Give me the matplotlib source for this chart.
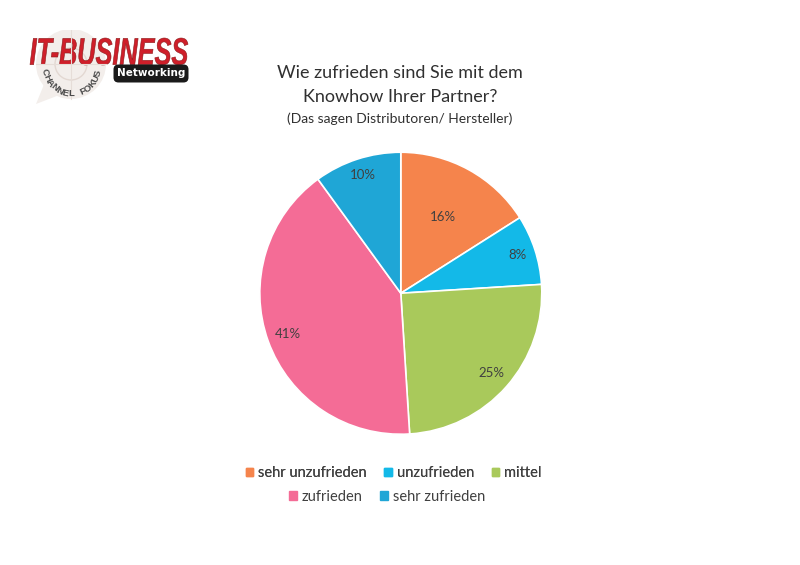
import numpy as np
import matplotlib.pyplot as plt
from matplotlib.patches import FancyBboxPatch, Circle, Polygon, PathPatch
from matplotlib.textpath import TextPath
from matplotlib.font_manager import FontProperties
from matplotlib.transforms import Affine2D

labels = ['sehr unzufrieden', 'unzufrieden', 'mittel', 'zufrieden', 'sehr zufrieden']
werte = [16, 8, 25, 41, 10]
farben = ['#F5844C', '#13B9E8', '#A9C95B', '#F46C96', '#1FA6D6']
label_abstand = [0.62, 0.87, 0.86, 0.85, 0.88]

plt.rcParams['font.family'] = ['Lato', 'DejaVu Sans']
txt = '#404040'

fig = plt.figure(figsize=(8, 5.65), dpi=100)
fig.patch.set_facecolor('white')

# Titel
fig.text(0.5, 0.871, 'Wie zufrieden sind Sie mit dem', ha='center', va='center', fontsize=13, color='#303030')
fig.text(0.5, 0.829, 'Knowhow Ihrer Partner?', ha='center', va='center', fontsize=13, color='#303030')
fig.text(0.5, 0.789, '(Das sagen Distributoren/ Hersteller)', ha='center', va='center', fontsize=10, color='#303030')

# Kreisdiagramm
ax = fig.add_axes([0.501 - 0.17625, 0.481 - 0.2496, 0.3525, 0.4992])
wedges, _ = ax.pie(werte, colors=farben, startangle=90, counterclock=False,
                   wedgeprops=dict(edgecolor='white', linewidth=1.2))
for w, v, d in zip(wedges, werte, label_abstand):
    mitte = np.deg2rad((w.theta1 + w.theta2) / 2)
    ax.text(d * np.cos(mitte), d * np.sin(mitte), f'{v}%', ha='center', va='center',
            fontsize=9.5, color=txt)
ax.set_aspect('equal')
ax.set_xlim(-1.0, 1.0)
ax.set_ylim(-1.0, 1.0)

# Legende, zwei Zeilen
h = [plt.Rectangle((0, 0), 1, 1, color=c) for c in farben]
opts = dict(loc='center', frameon=False, fontsize=10.5, handlelength=0.5, handleheight=0.5,
            handletextpad=0.35, columnspacing=1.2, labelcolor=txt)
leg1 = fig.legend(h[:3], labels[:3], bbox_to_anchor=(0.492, 0.163), ncol=3, **opts)
fig.legend(h[3:], labels[3:], bbox_to_anchor=(0.484, 0.121), ncol=2, **opts)
fig.add_artist(leg1)

# Logo oben links (Koordinaten = Bildpixel)
lax = fig.add_axes([20 / 800, 1 - 112 / 565, 180 / 800, 82 / 565])
lax.set_xlim(20, 200)
lax.set_ylim(112, 30)
lax.axis('off')
cx, cy, r = 71, 64, 35
lax.add_patch(Polygon([(45, 82), (36, 104), (62, 94)], closed=True, fc='#f3eeeb', ec='none'))
lax.add_patch(Circle((cx, cy), r, fc='#f3eeeb', ec='none'))
lax.add_patch(Circle((cx, cy), 16, fill=False, ec='#e3d8d2', lw=1))
lax.plot([cx - r, cx + r], [cy, cy], color='#e6ddd8', lw=0.8)
lax.plot([cx, cx], [cy - r, cy + r], color='#e6ddd8', lw=0.8)

fp = FontProperties(family='Liberation Sans', weight='bold', style='italic')
tp = TextPath((0, 0), 'IT-BUSINESS', size=10, prop=fp)
ext = tp.get_extents()
tr = Affine2D().translate(-ext.x0, -ext.y0).scale(158 / ext.width, -27 / ext.height).translate(30, 65)
lax.add_patch(PathPatch(tr.transform_path(tp), fc='#cf1f2a', ec='#8a1a1a', lw=0.4))

lax.add_patch(FancyBboxPatch((115, 66), 72, 15, boxstyle='round,pad=1.5,rounding_size=5',
                             fc='#1a1a1a', ec='none'))
lax.text(151, 73.5, 'Networking', ha='center', va='center', color='white', fontsize=7.5,
         fontweight='bold', family='DejaVu Sans')

# Schrift im Bogen
wort = 'CHANNEL FOKUS'
winkel = np.linspace(191, 347, len(wort))
for ch, a in zip(wort, winkel):
    ar = np.deg2rad(a)
    lax.text(71.5 + 27 * np.cos(ar), 67 - 27 * np.sin(ar), ch, ha='center', va='center',
             rotation=a + 90, rotation_mode='anchor', fontsize=6.8, fontweight='bold',
             color='#4a4a4a', family='Liberation Sans')

fig.savefig('out.png', dpi=100, facecolor='white')
